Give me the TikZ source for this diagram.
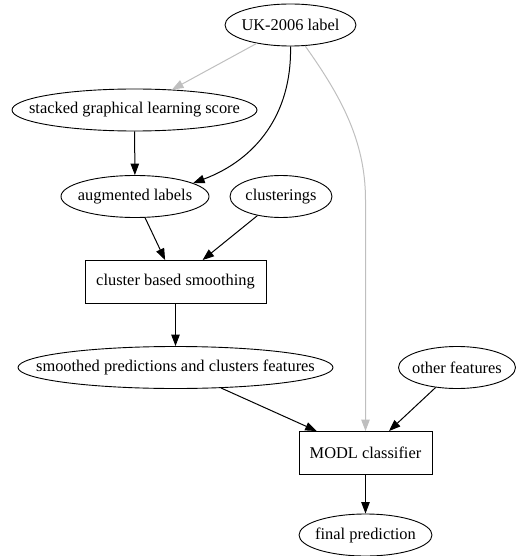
\documentclass[tikz,border=0pt]{standalone}
\usepackage{fontspec}
\setmainfont{Liberation Serif}
\usetikzlibrary{arrows.meta,shapes.geometric}
\newcommand{\zl}[1]{\makebox[0pt]{#1}}
\begin{document}
\begin{tikzpicture}[x=1pt,y=-1pt,
  every node/.style={font=\fontsize{16.4}{18}\selectfont, inner sep=0pt, line width=0.9pt},
  ell/.style={draw, ellipse, minimum height=42pt},
  box/.style={draw, rectangle, minimum height=43pt},
  edge/.style={draw, line width=1pt, -{Triangle[length=11.5pt,width=8.5pt]}},
  grayedge/.style={edge, draw=black!25, -{Triangle[length=11.5pt,width=8.5pt,fill=black!25]}}]
\useasboundingbox (0,0) rectangle (516,556);
\node[ell, minimum width=131pt] (uk) at (290.5,25) {\zl{UK-2006 label}};
\node[ell, minimum width=245pt] (sgl) at (134.5,110) {\zl{stacked graphical learning score}};
\node[ell, minimum width=148pt] (aug) at (135,196.5) {\zl{augmented labels}};
\node[ell, minimum width=102pt] (clu) at (281,196.5) {\zl{clusterings}};
\node[box, minimum width=181pt] (cbs) at (175.5,282) {cluster based smoothing};
\node[ell, minimum width=315pt] (smo) at (175.5,367.5) {\zl{smoothed predictions and clusters features}};
\node[ell, minimum width=117pt] (oth) at (457,367.5) {\zl{other features}};
\node[box, minimum width=133pt] (modl) at (365.5,453) {MODL classifier};
\node[ell, minimum width=133pt] (fin) at (365.5,535) {\zl{final prediction}};
\coordinate (bend) at (365.5,200);
\draw[grayedge] (uk) -- (sgl);
\draw[edge] (uk.south) .. controls (292,115) and (255,160) .. (aug.13);
\draw[grayedge] (uk.-55) .. controls (340,95) and (365.5,140) .. (bend) -- (modl.north);
\draw[edge] (sgl) -- (aug);
\draw[edge] (aug) -- (cbs);
\draw[edge] (clu) -- (cbs);
\draw[edge] (cbs) -- (smo);
\draw[edge] (smo) -- (modl);
\draw[edge] (oth) -- (modl);
\draw[edge] (modl) -- (fin);
\end{tikzpicture}
\end{document}
